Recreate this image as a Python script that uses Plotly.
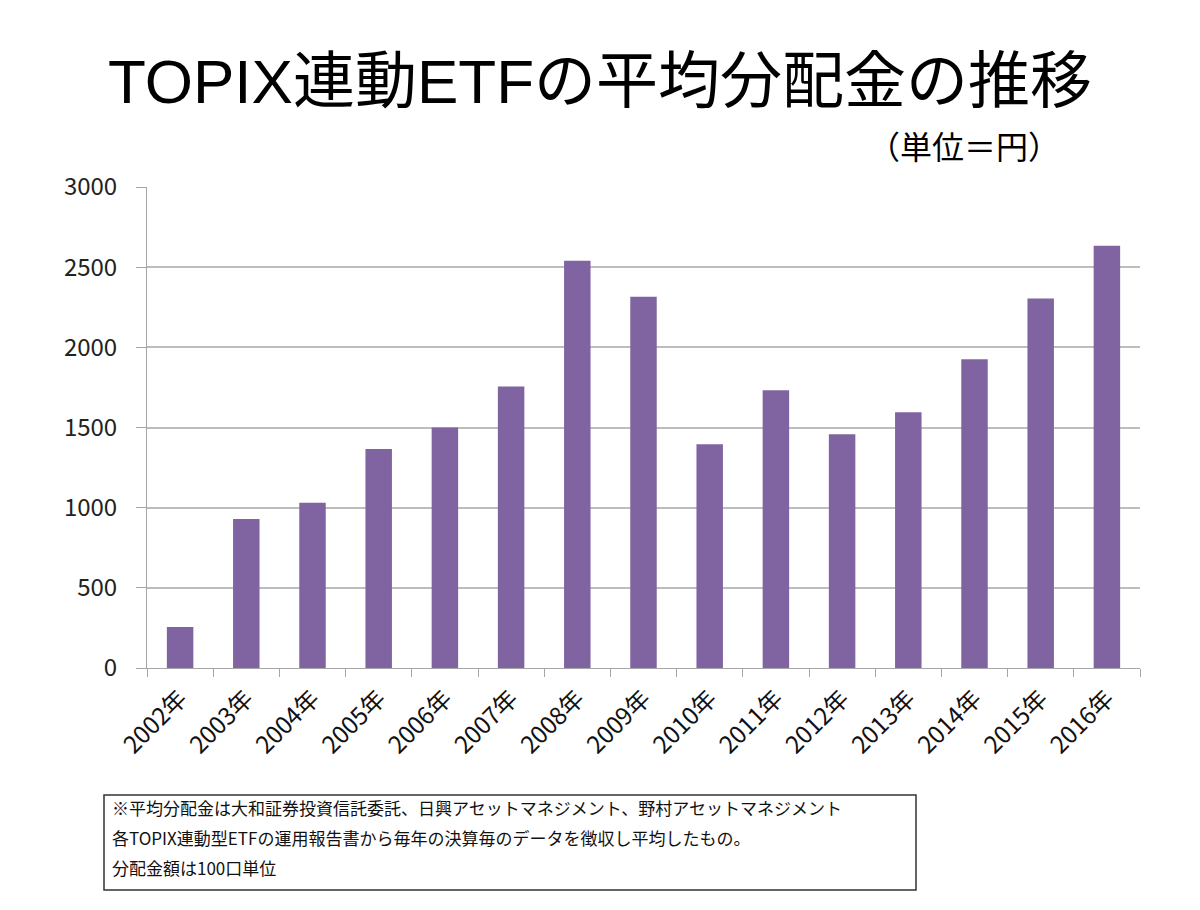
import plotly.graph_objects as go

years = ["2002年", "2003年", "2004年", "2005年", "2006年", "2007年", "2008年", "2009年",
         "2010年", "2011年", "2012年", "2013年", "2014年", "2015年", "2016年"]
dividends = [255, 930, 1030, 1366, 1500, 1755, 2540, 2316, 1395, 1732, 1458, 1595, 1926, 2304, 2633]
y_ticks = [0, 500, 1000, 1500, 2000, 2500, 3000]

title_parts = [("TOPIX", "latin"), ("連動", "cjk"), ("ETF", "latin"), ("の平均分配金の推移", "cjk")]
unit_text = "（単位＝円）"
note_lines = [
    "※平均分配金は大和証券投資信託委託、日興アセットマネジメント、野村アセットマネジメント",
    "各TOPIX連動型ETFの運用報告書から毎年の決算毎のデータを徴収し平均したもの。",
    "分配金額は100口単位",
]

FONT = "Noto Sans CJK JP"
LATIN = "Liberation Sans"

fig = go.Figure(go.Bar(
    x=years, y=dividends,
    marker=dict(color="#8064a2", line=dict(width=0)),
))

L, R, T, B = 147, 60, 187, 242
W, H = 1200, 910
pw = W - L - R
ph = H - T - B


def px_x(v):
    return (v - L) / pw


def px_y(v):
    return (H - B - v) / ph


fig.update_layout(
    width=W, height=H,
    margin=dict(l=L, r=R, t=T, b=B),
    paper_bgcolor="white", plot_bgcolor="white",
    bargap=0.6,
    showlegend=False,
    font=dict(family=FONT, color="#222222"),
)

fig.update_yaxes(
    range=[0, 3000], tickvals=y_ticks,
    showgrid=True, gridcolor="#bdbdbd", gridwidth=1.5,
    showline=True, linecolor="#a6a6a6", linewidth=1,
    ticks="outside", ticklen=10, tickcolor="#a6a6a6",
    ticklabelstandoff=14,
    tickfont=dict(family=FONT, size=24, color="#222222"),
    zeroline=False,
)
fig.update_xaxes(
    showline=True, linecolor="#a6a6a6", linewidth=1,
    ticks="outside", ticklen=8, tickcolor="#a6a6a6",
    tickson="boundaries",
    tickangle=-45,
    ticklabelstandoff=6,
    tickfont=dict(family=FONT, size=24, color="#111111"),
)

title_html = "".join(
    f'<span style="font-family:{LATIN if kind == "latin" else FONT}">{txt}</span>'
    for txt, kind in title_parts
)
fig.add_annotation(
    text=title_html, xref="paper", yref="paper",
    x=px_x(600), y=px_y(76), xanchor="center", yanchor="middle",
    showarrow=False,
    font=dict(family=FONT, size=62, color="#000000"),
)
fig.add_annotation(
    text=unit_text, xref="paper", yref="paper",
    x=px_x(1062), y=px_y(145), xanchor="right", yanchor="middle",
    showarrow=False,
    font=dict(family=FONT, size=32, color="#000000"),
)

fig.add_shape(
    type="rect", xref="paper", yref="paper",
    x0=px_x(104), x1=px_x(916), y0=px_y(890), y1=px_y(795),
    line=dict(color="#333333", width=1.5), fillcolor="white",
)
for i, line in enumerate(note_lines):
    fig.add_annotation(
        text=line, xref="paper", yref="paper",
        x=px_x(110), y=px_y(807 + 30 * i),
        xanchor="left", yanchor="middle", showarrow=False,
        font=dict(family=FONT, size=17, color="#111111"),
    )

fig.write_html("out.html")
